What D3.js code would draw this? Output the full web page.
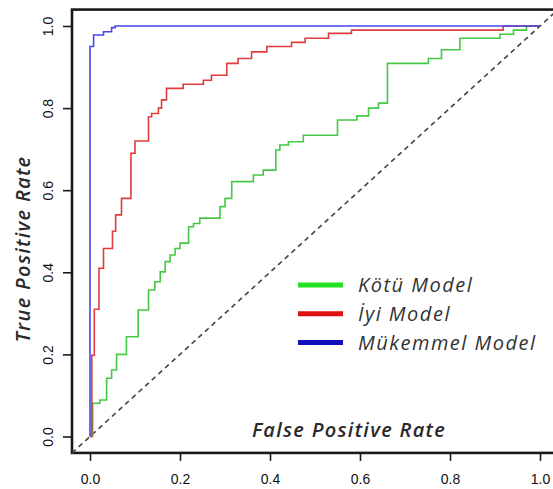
<!DOCTYPE html>
<html>
<head>
<meta charset="utf-8">
<script src="https://cdn.jsdelivr.net/npm/d3@7"></script>
<style>
  body { margin: 0; background: #fff; }
  svg { display: block; }
</style>
</head>
<body>
<svg width="553" height="489"></svg>
<script>
// ROC curve data (fpr = x, tpr = y at each step top)
const tickValues = [0, 0.2, 0.4, 0.6, 0.8, 1.0];

const badFpr = [0, 0.006, 0.022, 0.037, 0.048, 0.059, 0.081, 0.107, 0.13, 0.144, 0.156, 0.167, 0.178, 0.189, 0.2, 0.219, 0.23, 0.244, 0.289, 0.3, 0.315, 0.363, 0.385, 0.413, 0.422, 0.441, 0.474, 0.55, 0.593, 0.619, 0.641, 0.661, 0.752, 0.781, 0.822, 0.911, 0.941, 0.97, 1];
const badTpr = [0, 0.081, 0.089, 0.142, 0.162, 0.2, 0.243, 0.308, 0.357, 0.377, 0.401, 0.426, 0.442, 0.458, 0.471, 0.511, 0.519, 0.532, 0.56, 0.58, 0.621, 0.637, 0.649, 0.698, 0.71, 0.718, 0.734, 0.771, 0.781, 0.8, 0.812, 0.909, 0.921, 0.942, 0.97, 0.98, 0.99, 1, 1];

const goodFpr = [0, 0.004, 0.0096, 0.02, 0.03, 0.05, 0.057, 0.07, 0.091, 0.1, 0.13, 0.137, 0.152, 0.159, 0.17, 0.207, 0.252, 0.27, 0.304, 0.329, 0.359, 0.393, 0.448, 0.478, 0.53, 0.581, 0.918, 1];
const goodTpr = [0, 0.198, 0.31, 0.41, 0.458, 0.5, 0.54, 0.58, 0.69, 0.72, 0.779, 0.787, 0.8, 0.82, 0.848, 0.858, 0.868, 0.88, 0.909, 0.921, 0.937, 0.95, 0.96, 0.97, 0.982, 0.99, 1, 1];

const perfectFpr = [0, 0, 0.008, 0.03, 0.048, 0.056, 1];
const perfectTpr = [0, 0.95, 0.978, 0.986, 0.996, 1, 1];

const seriesNames = ["Kötü Model", "İyi Model", "Mükemmel Model"];
const lineColors = ["#45c845", "#e03c3c", "#4646e6"];
const legendColors = ["#22e022", "#dd1111", "#1111bb"];

const svg = d3.select("svg");

let x = d3.scaleLinear().domain([0, 1]).range([90, 540]);
let y = d3.scaleLinear().domain([0, 1]).range([436.5, 26]);

// plot box (R style, 4% padding)
svg.append("rect")
  .attr("x", x(-0.04))
  .attr("y", y(1.04))
  .attr("width", x(1.04) - x(-0.04))
  .attr("height", y(-0.04) - y(1.04))
  .attr("fill", "none")
  .attr("stroke", "#1a1a1a")
  .attr("stroke-width", 2.6);

// diagonal reference
svg.append("line")
  .attr("x1", x(-0.04)).attr("y1", y(-0.04))
  .attr("x2", x(1.04)).attr("y2", y(1.04))
  .attr("stroke", "#444")
  .attr("stroke-width", 1.6)
  .attr("stroke-dasharray", "5,4");

function zip(xs, ys) {
  return xs.map((v, i) => ({ x: v, y: ys[i] }));
}

let line = d3.line()
  .x(d => x(d.x))
  .y(d => y(d.y))
  .curve(d3.curveStepAfter);

const curves = [zip(badFpr, badTpr), zip(goodFpr, goodTpr), zip(perfectFpr, perfectTpr)];

svg.append("g")
  .selectAll("path")
  .data(curves)
  .join("path")
  .attr("d", line)
  .attr("fill", "none")
  .attr("stroke", (d, i) => lineColors[i])
  .attr("stroke-width", 1.6);

// axes
let xAxis = d3.axisBottom(x).tickValues(tickValues).tickSize(8).tickFormat(d3.format(".1f"));
let yAxis = d3.axisLeft(y).tickValues(tickValues).tickSize(9).tickFormat(d3.format(".1f"));

const gx = svg.append("g")
  .attr("transform", "translate(0," + y(-0.04) + ")")
  .call(xAxis);
gx.select(".domain").remove();
gx.selectAll("line").attr("stroke", "#1a1a1a").attr("stroke-width", 1.6);
gx.selectAll("text")
  .attr("y", 31)
  .attr("dy", 0)
  .attr("fill", "#111")
  .style("font", "14px 'Liberation Sans', Arial, sans-serif");

const gy = svg.append("g")
  .attr("transform", "translate(" + x(-0.04) + ",0)")
  .call(yAxis);
gy.select(".domain").remove();
gy.selectAll("line").attr("stroke", "#1a1a1a").attr("stroke-width", 1.6);
gy.selectAll("text")
  .attr("transform", "rotate(-90)")
  .attr("x", 0)
  .attr("y", -19)
  .attr("dy", 0)
  .attr("text-anchor", "middle")
  .attr("fill", "#111")
  .style("font", "14px 'Liberation Sans', Arial, sans-serif");

// axis titles
svg.append("text")
  .attr("x", 349)
  .attr("y", 437)
  .attr("text-anchor", "middle")
  .attr("fill", "#2a2a2a")
  .style("font", "italic 600 20px 'Open Sans', sans-serif")
  .style("letter-spacing", "1.3px")
  .text("False Positive Rate");

svg.append("text")
  .attr("transform", "translate(30,249) rotate(-90)")
  .attr("text-anchor", "middle")
  .attr("fill", "#2a2a2a")
  .style("font", "italic 600 20px 'Open Sans', sans-serif")
  .style("letter-spacing", "1.3px")
  .text("True Positive Rate");

// legend
const legend = svg.append("g").attr("transform", "translate(298,285)");
const items = legend.selectAll("g")
  .data(seriesNames)
  .join("g")
  .attr("transform", (d, i) => "translate(0," + i * 28.8 + ")");

items.append("line")
  .attr("x1", 0).attr("x2", 45)
  .attr("stroke", (d, i) => legendColors[i])
  .attr("stroke-width", 5);

items.append("text")
  .attr("x", 60)
  .attr("y", 7)
  .attr("fill", "#333")
  .style("font", "italic 400 20px 'Open Sans', sans-serif")
  .style("letter-spacing", "1.5px")
  .text(d => d);
</script>
</body>
</html>
